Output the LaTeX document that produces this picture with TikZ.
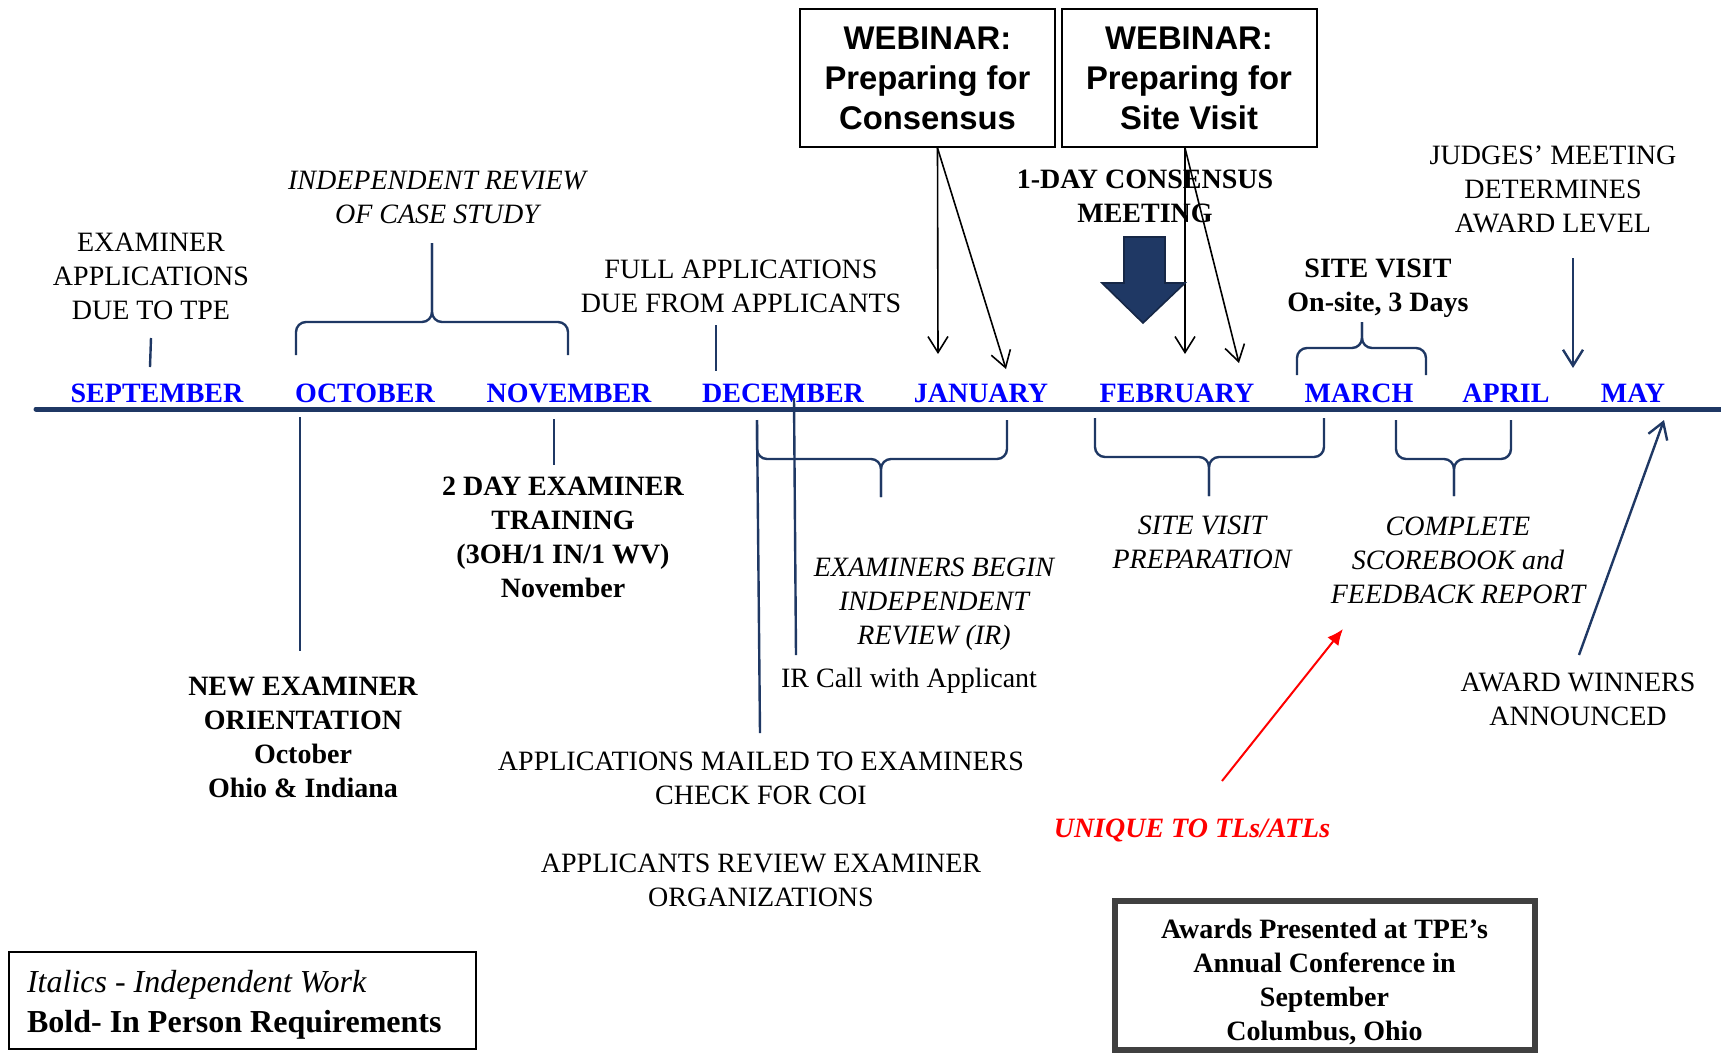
\documentclass[tikz,border=0pt]{standalone}
\usepackage{fontspec}
\setmainfont{Liberation Serif}
\newfontfamily\arialfont{Liberation Sans}
\usetikzlibrary{arrows.meta}
\definecolor{navy}{RGB}{31,56,100}
\definecolor{monthblue}{RGB}{0,0,255}
\definecolor{boxgray}{RGB}{64,64,64}

\begin{document}
\begin{tikzpicture}[x=0.5pt,y=-0.5pt,
  txt/.style={align=center,font=\fontsize{14}{17}\selectfont},
  itxt/.style={align=center,font=\fontsize{14}{17}\selectfont\itshape},
  btxt/.style={align=center,font=\fontsize{14}{17}\selectfont\bfseries},
  month/.style={anchor=base,text=monthblue,font=\fontsize{14}{17}\selectfont\bfseries},
  web/.style={draw,line width=1pt,align=center,minimum width=127.5pt,minimum height=69pt,
    font=\fontsize{16.4}{20}\selectfont\arialfont\bfseries},
  tick/.style={navy,line width=1.2pt},
  brace/.style={navy,line width=1.2pt,rounded corners=5pt},
  warrow/.style={line width=0.8pt,-{Straight Barb[length=8pt,width=10pt]}},
  narrow/.style={navy,line width=1.2pt,-{Straight Barb[length=8pt,width=10pt]}}]
\useasboundingbox (0,0) rectangle (1721,1056);

% timeline
\draw[navy,line width=2.5pt,line cap=round] (36,409) -- (1721,409);
\foreach \m/\x in {SEPTEMBER/157,OCTOBER/365,NOVEMBER/569,DECEMBER/783,JANUARY/981,
  FEBRUARY/1177,MARCH/1359,APRIL/1506,MAY/1633}
  \node[month] (\m) at (\x,402) {\m};

% above the line
\node[txt] (exapp) at (151,276) {EXAMINER\\APPLICATIONS\\DUE TO TPE};
\node[itxt] (casestudy) at (437,197) {INDEPENDENT REVIEW\\OF CASE STUDY};
\node[txt] (fullapp) at (741,286) {FULL APPLICATIONS\\DUE FROM APPLICANTS};
\node[web] (web1) at (927.5,78) {WEBINAR:\\Preparing for\\Consensus};
\node[web] (web2) at (1189,78) {WEBINAR:\\Preparing for\\Site Visit};
\node[btxt] (consensus) at (1145,196) {1-DAY CONSENSUS\\MEETING};
\node[btxt] (sitevisit) at (1378,288) {SITE VISIT\\On-site, 3 Days};
\node[txt] (judges) at (1553,189) {JUDGES' MEETING\\DETERMINES\\AWARD LEVEL};

\draw[tick] (151,338) -- (150,367);
\draw[tick] (716,325) -- (716,371);
\draw[brace] (296,355) -- (296,322) -- (432,322) -- (432,243);
\draw[brace] (568,355) -- (568,322) -- (432,322) -- (432,243);
\draw[brace] (1297,375) -- (1297,348) -- (1362,348) -- (1362,322);
\draw[brace] (1426,375) -- (1426,348) -- (1362,348) -- (1362,322);

\coordinate (jan1) at (938,354);
\coordinate (jan2) at (1006,369);
\coordinate (feb1) at (1185,354);
\coordinate (feb2) at (1239,363);
\draw[warrow] ([xshift=5pt]web1.south) -- (jan1);
\draw[warrow] ([xshift=5pt]web1.south) -- (jan2);
\draw[warrow] ([xshift=-2pt]web2.south) -- (feb1);
\draw[warrow] ([xshift=-2pt]web2.south) -- (feb2);

% consensus block arrow
\filldraw[fill=navy,draw=navy!70!black,line width=0.8pt] (1124,237) -- (1165,237) -- (1165,283)
  -- (1185,283) -- (1143,323) -- (1102,283) -- (1124,283) -- cycle;

\coordinate (jtop) at (1573,258);
\coordinate (jtip) at (1573,368);
\draw[narrow] (jtop) -- (jtip);

% below the line
\node[btxt] (orient) at (303,737) {NEW EXAMINER\\ORIENTATION\\October\\Ohio \& Indiana};
\node[btxt] (training) at (563,537.5) {2 DAY EXAMINER\\TRAINING\\(3OH/1 IN/1 WV)\\November};
\node[itxt] (irbegin) at (934,604) {EXAMINERS BEGIN\\INDEPENDENT\\REVIEW (IR)};
\node[txt] (ircall) at (909,681) {IR Call with Applicant};
\node[txt] (mailed) at (761,778) {APPLICATIONS MAILED TO EXAMINERS\\CHECK FOR COI};
\node[txt] (appreview) at (761,880) {APPLICANTS REVIEW EXAMINER\\ORGANIZATIONS};
\node[itxt] (svprep) at (1202,542) {SITE VISIT\\PREPARATION};
\node[itxt] (scorebook) at (1458,560) {COMPLETE\\SCOREBOOK and\\FEEDBACK REPORT};
\node[align=center,text=red,font=\fontsize{14}{17}\selectfont\bfseries\itshape] (unique) at (1192,830) {UNIQUE TO TLs/ATLs};
\node[txt] (winners) at (1578,699) {AWARD WINNERS\\ANNOUNCED};

\draw[tick] (300,417) -- (300,651);
\draw[tick] (554,419) -- (554,465);
\draw[tick] (757,420) -- (760,733);
\draw[tick] (794,398) -- (796,655);
\draw[brace] (757,420) -- (757,459) -- (881,459) -- (881,497);
\draw[brace] (1007,420) -- (1007,459) -- (881,459) -- (881,497);
\draw[brace] (1095,418) -- (1095,457) -- (1209,457) -- (1209,496);
\draw[brace] (1324,418) -- (1324,457) -- (1209,457) -- (1209,496);
\draw[brace] (1396,420) -- (1396,459) -- (1454,459) -- (1454,496);
\draw[brace] (1511,420) -- (1511,459) -- (1454,459) -- (1454,496);

\coordinate (redstart) at (1222,781);
\coordinate (redtip) at (1343,629);
\draw[red,line width=1pt,-{Latex[length=8pt,width=7pt]}] (redstart) -- (redtip);
\coordinate (wstart) at (1579,655);
\coordinate (wtip) at (1664,420);
\draw[narrow] (wstart) -- (wtip);

% boxes
\draw[line width=0.8pt] (9,952) rectangle (476,1049);
\node[align=left,anchor=west,font=\fontsize{16}{20}\selectfont] (legend) at (20,1005)
  {\textit{Italics - Independent Work}\\\textbf{Bold- In Person Requirements}};
\draw[boxgray,line width=3pt] (1115,901) rectangle (1535,1050);
\node[btxt] (awards) at (1324.5,982)
  {Awards Presented at TPE's\\Annual Conference in\\September\\Columbus, Ohio};
\end{tikzpicture}
\end{document}
